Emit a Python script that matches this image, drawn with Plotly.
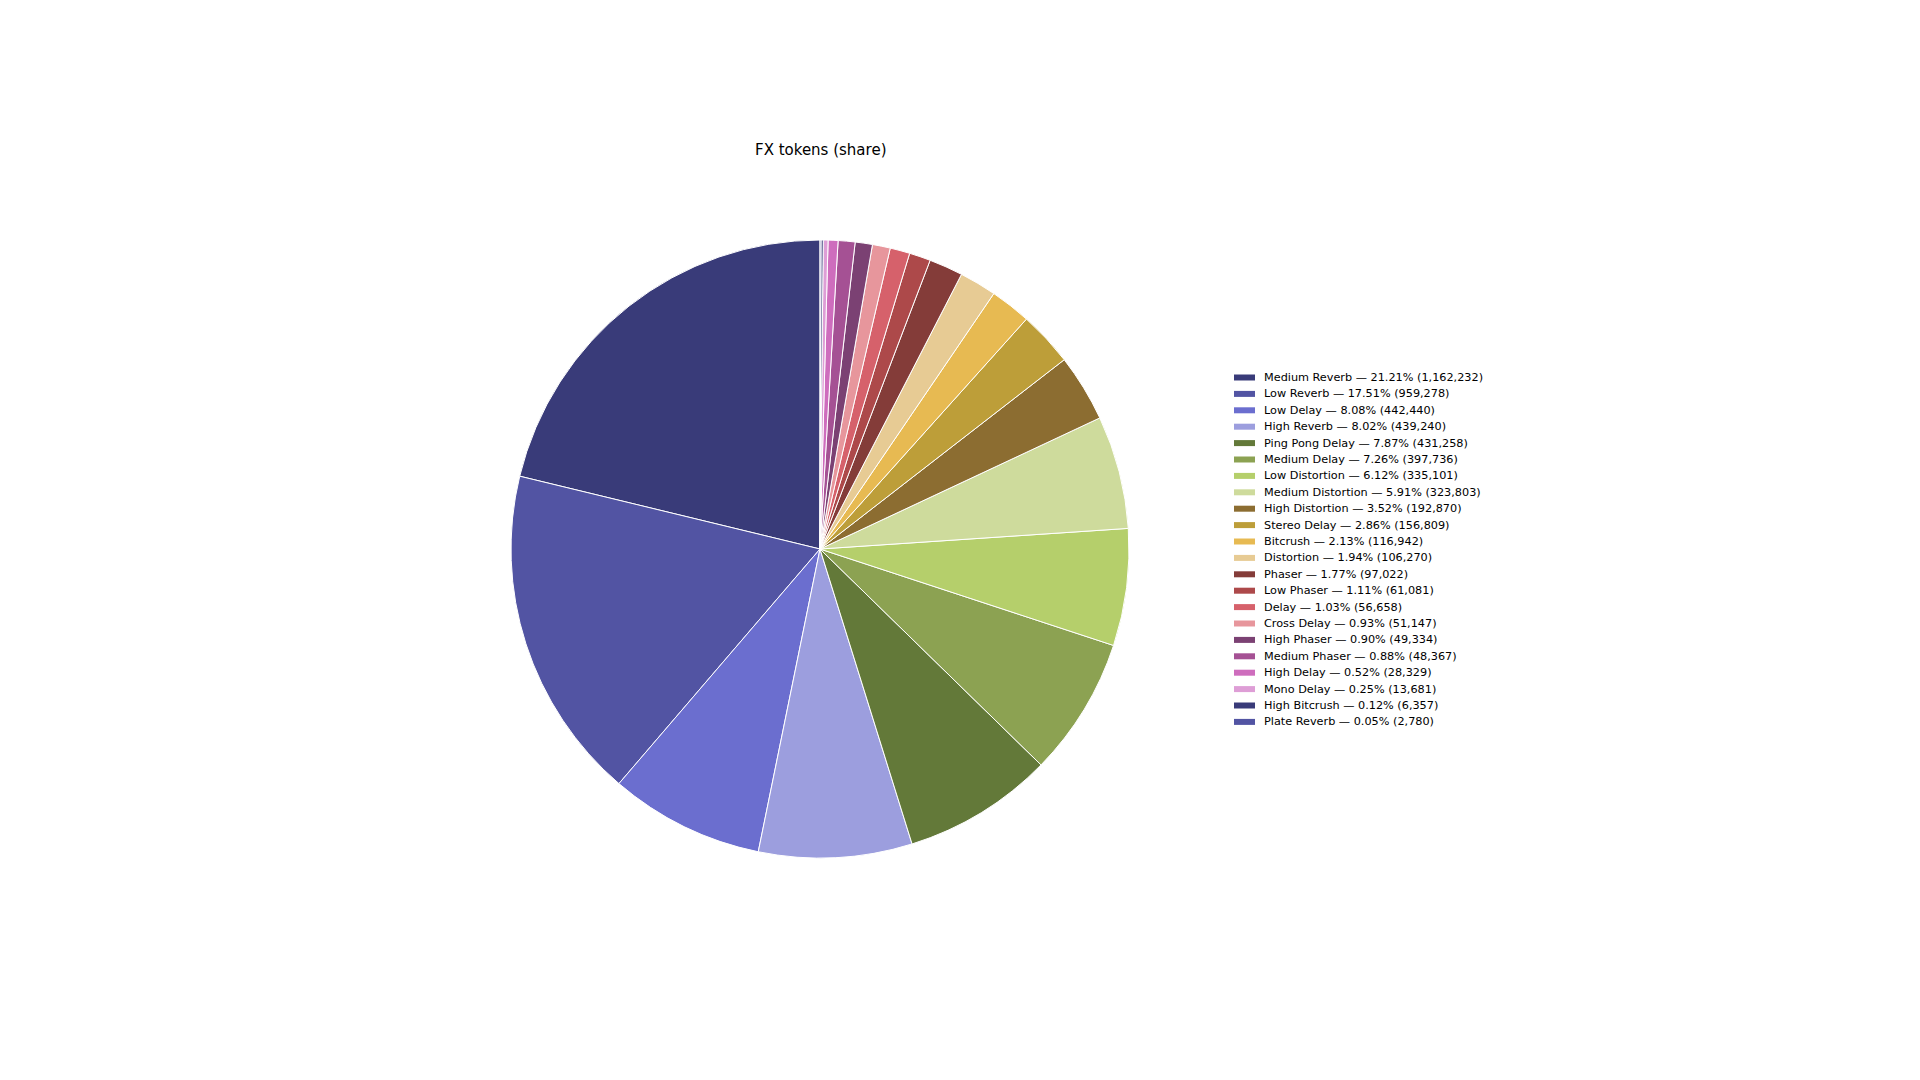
import plotly.graph_objects as go

labels = ["Medium Reverb", "Low Reverb", "Low Delay", "High Reverb", "Ping Pong Delay",
          "Medium Delay", "Low Distortion", "Medium Distortion", "High Distortion",
          "Stereo Delay", "Bitcrush", "Distortion", "Phaser", "Low Phaser", "Delay",
          "Cross Delay", "High Phaser", "Medium Phaser", "High Delay", "Mono Delay",
          "High Bitcrush", "Plate Reverb"]
values = [1162232, 959278, 442440, 439240, 431258, 397736, 335101, 323803, 192870,
          156809, 116942, 106270, 97022, 61081, 56658, 51147, 49334, 48367, 28329,
          13681, 6357, 2780]
colors = ["#393b79", "#5254a3", "#6b6ecf", "#9c9ede", "#637939", "#8ca252", "#b5cf6b",
          "#cedb9c", "#8c6d31", "#bd9e39", "#e7ba52", "#e7cb94", "#843c39", "#ad494a",
          "#d6616b", "#e7969c", "#7b4173", "#a55194", "#ce6dbd", "#de9ed6",
          "#393b79", "#5254a3"]

total = sum(values)
legend_labels = [f"{l} \u2014 {v / total * 100:.2f}% ({v:,})" for l, v in zip(labels, values)]

W, H = 1920, 1080
OFF = 8  # page body margin
cx, cy, r = 820 - OFF, 549 - OFF, 309

fig = go.Figure(go.Pie(
    labels=legend_labels,
    values=values,
    sort=False,
    direction="counterclockwise",
    rotation=-values[0] / total * 360,
    marker=dict(colors=colors, line=dict(color="white", width=1)),
    textinfo="none",
    hoverinfo="label",
    showlegend=False,
    domain=dict(x=[(cx - r) / W, (cx + r) / W], y=[(H - cy - r) / H, (H - cy + r) / H]),
))

# manual legend (matplotlib-like compact spacing)
shapes, annots = [], []
lx0, lx1, tx = 1234 - OFF, 1255 - OFF, 1262 - OFF
y0, dy = 377.5 - OFF, 16.4
for i, (lab, col) in enumerate(zip(legend_labels, colors)):
    yc = y0 + i * dy
    shapes.append(dict(type="rect", xref="paper", yref="paper",
                       x0=lx0 / W, x1=lx1 / W, y0=1 - (yc + 3) / H, y1=1 - (yc - 3) / H,
                       fillcolor=col, line=dict(width=0)))
    annots.append(dict(text=lab, x=tx / W, y=1 - yc / H, xref="paper", yref="paper",
                       xanchor="left", yanchor="middle", showarrow=False,
                       font=dict(size=11.25, family="DejaVu Sans", color="black")))

annots.append(dict(text="FX tokens (share)", x=cx / W, y=1 - (150 - OFF) / H,
                   xref="paper", yref="paper", xanchor="center", yanchor="middle",
                   showarrow=False, font=dict(size=15, family="DejaVu Sans", color="black")))

fig.update_layout(
    width=W, height=H,
    paper_bgcolor="white", plot_bgcolor="white",
    margin=dict(l=0, r=0, t=0, b=0),
    font=dict(family="DejaVu Sans", color="black"),
    showlegend=False,
    shapes=shapes,
    annotations=annots,
)

fig.write_html("out.html")
